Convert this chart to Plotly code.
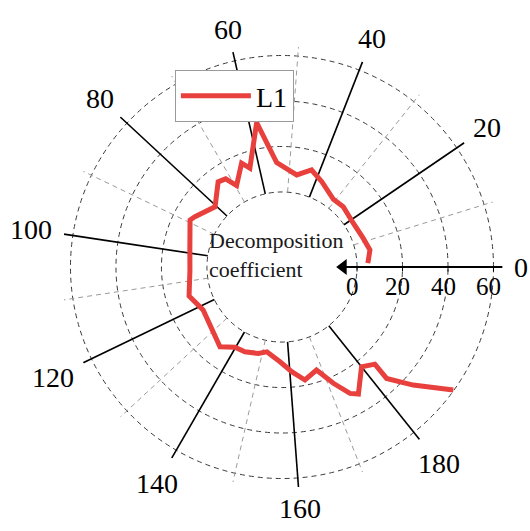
import math
import plotly.graph_objects as go

# L1 decomposition coefficient against angular position (axis units, a full turn = 210)
angle_pos = [1.5, 6.4, 11.3, 18.4, 26.0, 30.8, 37.9, 42.6, 47.2, 54.2, 58.3, 63.0,
             64.9, 69.5, 71.5, 74.0, 80.5, 87.5, 89.2, 98.9, 106.1, 115.1, 121.7,
             135.4, 139.8, 143.7, 148.5, 151.6, 156.8, 160.6, 164.2, 168.3, 171.4,
             174.0, 175.6, 180.0, 183.0, 182.7, 185.5, 189.2]
coef = [4.8, 6.4, 4.9, 3.8, 4.8, 4.4, 8.4, 11.6, 8.0, 13.0, 31.5, 12.7,
        16.0, 8.0, 13.0, 13.8, 6.6, 11.2, 12.4, 8.2, 7.5, 9.8, 6.5,
        11.4, 7.9, 7.7, 6.4, 4.9, 8.7, 13.2, 17.7, 14.8, 22.9,
        30.1, 32.2, 23.1, 26.1, 34.2, 44.6, 59.7]

angle_ticks = list(range(0, 181, 20))
angle_labels = [str(a) for a in angle_ticks]
minor_spokes = list(range(10, 171, 20))
radial_ticks = [0, 20, 40, 60]
radial_labels = [str(r) for r in radial_ticks]

FULL_TURN = 210.0
R_MIN, R_MAX = -33, 64
ARROW_TIP = -8.9

SERIF = "Liberation Serif"
ANG_FONT = 28
RAD_FONT = 25

W, H = 530, 531
DOM_X = [0.1158, 0.9483]
DOM_Y = [0.0817, 0.9126]
CX = (DOM_X[0] + DOM_X[1]) / 2
CY = (DOM_Y[0] + DOM_Y[1]) / 2
RIM_PX = (DOM_X[1] - DOM_X[0]) * W / 2
PX_PER_UNIT = RIM_PX / (R_MAX - R_MIN)


def to_deg(u):
    return u * 360.0 / FULL_TURN


def spokes(values):
    r, th = [], []
    for v in values:
        r += [0, R_MAX, None]
        th += [to_deg(v), to_deg(v), None]
    return r, th


def angular_label(text, deg, gap_px=11, size=ANG_FONT):
    # place a label just clear of the outer rim, allowing for its width
    half_w = 0.25 * size * len(text)
    half_h = 0.33 * size
    a = math.radians(deg)
    dist = RIM_PX + gap_px + half_w * abs(math.cos(a)) + half_h * abs(math.sin(a))
    return dict(text=text, x=CX + dist * math.cos(a) / W, y=CY + dist * math.sin(a) / H,
                xref="paper", yref="paper", xanchor="center", yanchor="middle",
                showarrow=False, font=dict(family=SERIF, size=size, color="black"))


def radial_label(text, value, size=RAD_FONT):
    # label sitting under the radial axis line at the given value
    dist = (value - R_MIN) * PX_PER_UNIT
    return dict(text=text, x=CX + dist / W, y=CY, xref="paper", yref="paper",
                xanchor="center", yanchor="top", xshift=-5, yshift=-4,
                showarrow=False, font=dict(family=SERIF, size=size, color="black"))


fig = go.Figure()

# solid spokes at the labelled angles
r_major, th_major = spokes(angle_ticks[1:])
fig.add_trace(go.Scatterpolar(r=r_major, theta=th_major, mode="lines",
                              line=dict(color="black", width=1.6),
                              showlegend=False, hoverinfo="skip"))

# dashed spokes half-way between them
r_minor, th_minor = spokes(minor_spokes)
fig.add_trace(go.Scatterpolar(r=r_minor, theta=th_minor, mode="lines",
                              line=dict(color="#9a9a9a", width=1, dash="5px,4px"),
                              showlegend=False, hoverinfo="skip"))

# radial axis line with its arrow pointing to the centre
fig.add_trace(go.Scatterpolar(r=[ARROW_TIP + 2.5, R_MAX], theta=[0, 0], mode="lines",
                              line=dict(color="black", width=2),
                              showlegend=False, hoverinfo="skip"))
fig.add_trace(go.Scatterpolar(r=[ARROW_TIP + 2.8], theta=[0], mode="markers",
                              marker=dict(symbol="triangle-left", size=14, color="black"),
                              showlegend=False, hoverinfo="skip"))

# the L1 curve
fig.add_trace(go.Scatterpolar(r=coef, theta=[to_deg(a) for a in angle_pos],
                              mode="lines", name="L1",
                              line=dict(color="#E8403D", width=5)))

annotations = [angular_label(t, to_deg(a)) for t, a in zip(angle_labels, angle_ticks)]
annotations += [radial_label(t, v) for t, v in zip(radial_labels, radial_ticks)]
annotations.append(dict(
    text="Decomposition<br>coefficient", x=0.521, y=0.52,
    xref="paper", yref="paper", xanchor="center", yanchor="middle",
    align="left", showarrow=False,
    font=dict(family=SERIF, size=22, color="#1a1a1a"),
))

fig.update_layout(
    width=W, height=H,
    margin=dict(l=0, r=0, t=0, b=0),
    paper_bgcolor="white",
    font=dict(family=SERIF, color="black"),
    polar=dict(
        domain=dict(x=DOM_X, y=DOM_Y),
        bgcolor="white",
        radialaxis=dict(
            range=[R_MIN, R_MAX], tickvals=radial_ticks, ticktext=radial_labels,
            showgrid=True, gridcolor="#3a3a3a", gridwidth=1, griddash="5px,4px",
            showline=False, ticks="outside", ticklen=4, tickcolor="black",
            showticklabels=False, side="clockwise", angle=0,
        ),
        angularaxis=dict(
            thetaunit="degrees", rotation=0, direction="counterclockwise",
            showgrid=False, showline=False, ticks="", showticklabels=False,
        ),
    ),
    legend=dict(
        x=0.33, y=0.868, xanchor="left", yanchor="top",
        bgcolor="white", bordercolor="#9a9a9a", borderwidth=1,
        font=dict(family=SERIF, size=28, color="black"), itemwidth=70,
    ),
    annotations=annotations,
)

fig.write_html("out.html")
